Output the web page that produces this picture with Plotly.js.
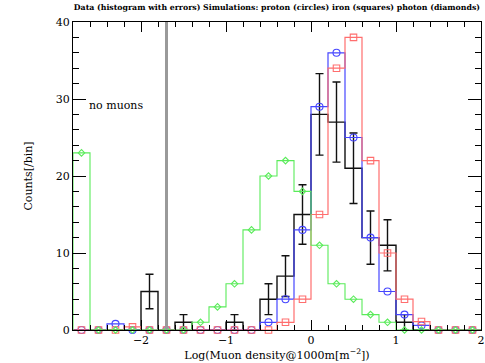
<!DOCTYPE html>
<html>
<head>
<meta charset="utf-8">
<script src="https://cdn.plot.ly/plotly-3.0.1.min.js"></script>
<style>html,body{margin:0;padding:0;background:#fff;}#chart{width:485px;height:363px;}</style>
</head>
<body>
<div id="chart"></div>
<script>
// bin centres, log10(muon density), bin width 0.2
const BIN_W = 0.2;
const centers = [-2.7,-2.5,-2.3,-2.1,-1.9,-1.7,-1.5,-1.3,-1.1,-0.9,-0.7,-0.5,-0.3,-0.1,
                 0.1,0.3,0.5,0.7,0.9,1.1,1.3,1.5,1.7,1.9];

// data histogram + errors
const dataCounts = [0,0,0,0,5,0,1,0,0,1,0,4,7,15,28,27,21,12,11,1,0,0,0,0];
const dataErr    = [0,0,0,0,2.24,0,1,0,0,1,0,2,2.65,3.87,5.29,5.2,4.58,3.46,3.32,1,0,0,0,0];
// simulations
const proton = [0,0,0.8,0,0,0,0,0,0,0,0,1,4,13,29,36,25,12,5,2,0.6,0,0,0];
const iron   = [0,0,0,0.4,0,0,0,0,0,0,0,0,1,4,15,34,38,22,10,4,1.1,0,0,0];
const photon = [23,0,0,0,0,0,0,1,3,6,13,20,22,18,11,6,4,2,1,0,0,0,0,0];

const cutX = -1.7; // "no muons" boundary

const FONT = 'DejaVu Serif';

function stepTrace(vals, color, width){
  const x = [centers[0]-BIN_W/2], y = [0];
  vals.forEach((v,i)=>{ x.push(centers[i]-BIN_W/2); y.push(v); });
  const last = centers[centers.length-1]+BIN_W/2;
  x.push(last); y.push(vals[vals.length-1]);
  x.push(last); y.push(0);
  return {type:'scatter', mode:'lines', x, y, line:{shape:'hv', color, width},
          hoverinfo:'skip', showlegend:false, cliponaxis:false};
}
function markTrace(vals, color, symbol, size){
  return {type:'scatter', mode:'markers', x:centers, y:vals,
          marker:{symbol, size, color, line:{color, width:1.1}},
          showlegend:false, cliponaxis:false};
}

const BLUE = 'rgb(70,70,255)', RED = 'rgb(255,110,110)', GREEN = 'rgb(90,235,90)';

const nz = dataCounts.map((v,i)=> v>0 ? i : -1).filter(i=>i>=0);
const traces = [
  stepTrace(dataCounts, '#111', 1.4),
  {type:'scatter', mode:'markers', x:nz.map(i=>centers[i]), y:nz.map(i=>dataCounts[i]),
   marker:{size:1, color:'rgba(0,0,0,0)'},
   error_y:{type:'data', array:nz.map(i=>dataErr[i]), visible:true, color:'#111', thickness:1.4, width:4},
   showlegend:false},
  stepTrace(proton, BLUE, 1.2),
  markTrace(proton, BLUE, 'circle-open', 7),
  stepTrace(iron, RED, 1.2),
  markTrace(iron, RED, 'square-open', 6.5),
  stepTrace(photon, GREEN, 1.1),
  markTrace(photon, GREEN, 'diamond-open', 5)
];

const axisBase = {
  showline:true, linecolor:'#000', linewidth:1, mirror:'allticks',
  ticks:'inside', tickcolor:'#000', showgrid:false, zeroline:false,
  tickfont:{family:FONT, size:11, color:'#000'}
};

const layout = {
  width:485, height:363,
  margin:{l:73, r:4, t:22, b:33},
  paper_bgcolor:'#fff', plot_bgcolor:'#fff',
  title:{text:'<b>Data (histogram with errors) Simulations: proton (circles) iron (squares) photon (diamonds)</b>',
         font:{family:FONT, size:7.8, color:'#000'}, x:0.571, xanchor:'center', y:0.988, yanchor:'top'},
  xaxis:Object.assign({}, axisBase, {
    range:[-2.8, 2.0], tickvals:[-2,-1,0,1,2], ticklen:10,
    minor:{dtick:0.2, tick0:0, ticklen:5, ticks:'inside', tickcolor:'#000'},
    title:{text:'Log(Muon density@1000m[m<sup>\u22122</sup>])', font:{family:FONT, size:11, color:'#000'}, standoff:2}
  }),
  yaxis:Object.assign({}, axisBase, {
    range:[0, 40], tickvals:[0,10,20,30,40], ticklen:13,
    minor:{dtick:2, tick0:0, ticklen:6, ticks:'inside', tickcolor:'#000'},
    title:{text:'Counts[/bin]', font:{family:FONT, size:11, color:'#000'}, standoff:20}
  }),
  shapes:[{type:'line', xref:'x', yref:'y', x0:cutX, x1:cutX, y0:0, y1:40,
           line:{color:'#9a9a9a', width:3}}],
  annotations:[{xref:'x', yref:'y', x:-2.29, y:29.2, text:'no muons', showarrow:false,
                font:{family:FONT, size:11, color:'#000'}}]
};

Plotly.newPlot('chart', traces, layout, {displayModeBar:false, staticPlot:true});
</script>
</body>
</html>
